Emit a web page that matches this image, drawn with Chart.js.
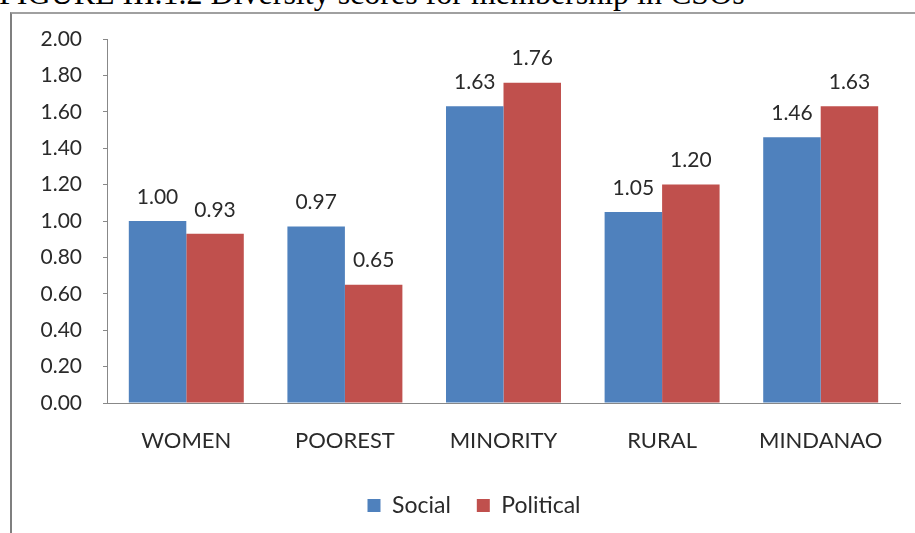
<!DOCTYPE html>
<html>
<head>
<meta charset="utf-8">
<script src="https://cdn.jsdelivr.net/npm/chart.js@4/dist/chart.umd.min.js"></script>
<style>
  html, body { margin: 0; padding: 0; background: #fff; }
  #wrap { position: relative; width: 915px; height: 533px; overflow: hidden; background: #fff; }
  #title { position: absolute; left: -1px; top: -25px; font-family: "Liberation Serif", "Times New Roman", serif; font-size: 32px; color: #000; white-space: nowrap; }
  #frame { position: absolute; left: 10px; top: 12px; width: 1000px; height: 600px; border-left: 2px solid #7f7f7f; border-top: 2px solid #a0a0a0; }
  canvas { position: absolute; left: 0; top: 0; }
</style>
</head>
<body>
<div id="wrap">
  <div id="title">FIGURE III.1.2 Diversity scores for membership in CSOs</div>
  <div id="frame"></div>
  <canvas id="c" width="915" height="533"></canvas>
</div>
<script>
const categories = ["WOMEN", "POOREST", "MINORITY", "RURAL", "MINDANAO"];
const socialValues = [1.00, 0.97, 1.63, 1.05, 1.46];
const politicalValues = [0.93, 0.65, 1.76, 1.20, 1.63];
const seriesNames = ["Social", "Political"];

const FONT = "Lato, 'Open Sans', sans-serif";
const TEXT = "#2a2a2a";

const valueLabels = {
  id: "valueLabels",
  afterDatasetsDraw(chart) {
    const ctx = chart.ctx;
    ctx.save();
    ctx.font = "21px " + FONT;
    ctx.fillStyle = TEXT;
    ctx.textAlign = "center";
    ctx.textBaseline = "middle";
    chart.data.datasets.forEach((ds, i) => {
      chart.getDatasetMeta(i).data.forEach((bar, j) => {
        ctx.fillText(ds.data[j].toFixed(2), bar.x, bar.y - 24);
      });
    });
    ctx.restore();
  }
};

const legendShift = {
  id: "legendShift",
  afterLayout(chart) {
    if (chart.legend) { chart.legend.left += 24; chart.legend.right += 24; }
  }
};

new Chart(document.getElementById("c"), {
  type: "bar",
  data: {
    labels: categories,
    datasets: [
      { label: seriesNames[0], data: socialValues, backgroundColor: "#4F81BD" },
      { label: seriesNames[1], data: politicalValues, backgroundColor: "#C0504D" }
    ]
  },
  options: {
    responsive: false,
    animation: false,
    devicePixelRatio: 1,
    layout: { padding: { left: 0, right: 15, top: 39, bottom: 6 } },
    datasets: { bar: { categoryPercentage: 0.725, barPercentage: 1.0 } },
    scales: {
      x: {
        grid: { display: true, drawOnChartArea: false, drawTicks: false, color: "#888" },
        border: { display: true, color: "#888", width: 1 },
        ticks: { color: TEXT, font: { family: FONT, size: 22 }, padding: 25 },
        afterFit(s) { s.height = 65; }
      },
      y: {
        min: 0, max: 2,
        grid: { display: true, drawOnChartArea: false, drawTicks: true, tickLength: 4, color: "#888" },
        border: { display: true, color: "#888", width: 1 },
        ticks: { stepSize: 0.2, color: TEXT, font: { family: FONT, size: 21 }, padding: 21,
                 callback: v => Number(v).toFixed(2) },
        afterFit(s) { s.width = 107; }
      }
    },
    plugins: {
      legend: {
        position: "bottom",
        labels: { color: TEXT, font: { family: FONT, size: 23 }, boxWidth: 13, boxHeight: 13, padding: 26, useBorderRadius: false }
      },
      tooltip: { enabled: false },
      title: { display: false }
    }
  },
  plugins: [valueLabels, legendShift]
});
</script>
</body>
</html>
